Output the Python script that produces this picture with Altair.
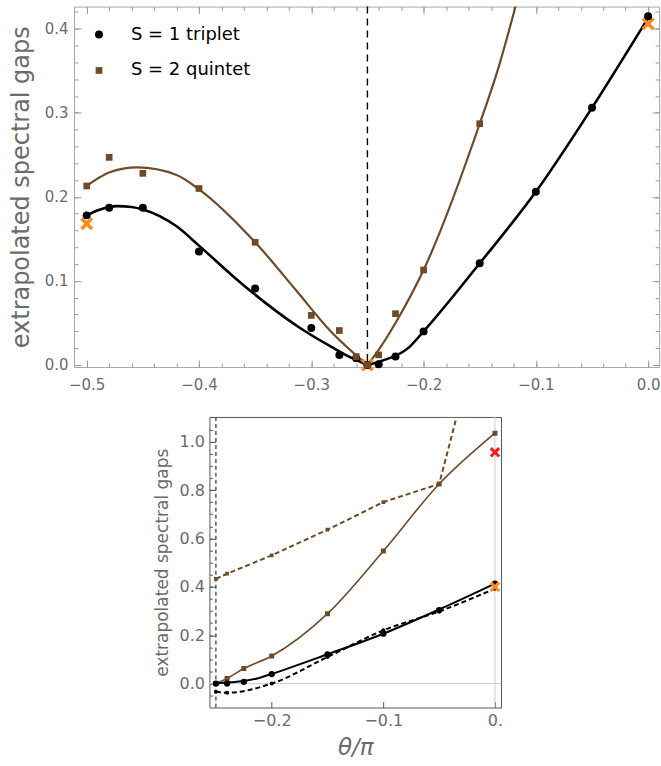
import altair as alt
import pandas as pd

FONT = "DejaVu Sans"
LABEL_GRAY = "#6b6b6b"
FRAME_TOP = "#a8a8a8"
FRAME_BOT = "#555555"
TICK_GRAY = "#9a9a9a"
BROWN = "#6e4a28"
ORANGE = "#ff8a1c"
RED = "#ff1a1a"
XPATH = "M-1,-1L1,1M-1,1L1,-1"

# ---------------- top panel data ----------------
trip_theta = [-0.5, -0.48, -0.45, -0.4, -0.35, -0.3, -0.275, -0.26, -0.25, -0.24, -0.225, -0.2, -0.15, -0.1, -0.05, 0.0]
trip_gap = [0.178, 0.187, 0.187, 0.135, 0.091, 0.044, 0.012, 0.008, 0.000, 0.001, 0.010, 0.040, 0.121, 0.206, 0.306, 0.415]

quin_theta = [-0.5, -0.48, -0.45, -0.4, -0.35, -0.3, -0.275, -0.26, -0.25, -0.24, -0.225, -0.2, -0.15]
quin_gap = [0.213, 0.247, 0.228, 0.210, 0.146, 0.059, 0.041, 0.010, 0.000, 0.012, 0.061, 0.113, 0.287]

# fitted curves (two branches each)
trip_fitL_theta = [-0.5, -0.49, -0.48, -0.473, -0.46, -0.45, -0.42, -0.40, -0.37, -0.34, -0.31, -0.28, -0.265, -0.25]
trip_fitL_gap = [0.178, 0.184, 0.188, 0.189, 0.188, 0.185, 0.165, 0.142, 0.106, 0.073, 0.044, 0.020, 0.009, 0.000]
trip_fitR_theta = [-0.25, -0.237, -0.213, -0.2, -0.15, -0.1, -0.05, 0.0]
trip_fitR_gap = [0.000, 0.005, 0.021, 0.040, 0.121, 0.206, 0.306, 0.413]

quin_fitL_theta = [-0.5, -0.49, -0.48, -0.455, -0.42, -0.40, -0.35, -0.313, -0.284, -0.25]
quin_fitL_gap = [0.213, 0.222, 0.229, 0.235, 0.226, 0.209, 0.146, 0.088, 0.042, 0.000]
quin_fitR_theta = [-0.25, -0.24, -0.225, -0.2, -0.15, -0.133, -0.118]
quin_fitR_gap = [0.000, 0.018, 0.050, 0.113, 0.287, 0.355, 0.427]

top_cross_theta = [-0.5, -0.25, 0.0]
top_cross_gap = [0.168, 0.000, 0.406]

critical_theta = [-0.25]

# ---------------- bottom panel data ----------------
bot_trip_theta = [-0.25, -0.24, -0.225, -0.2, -0.15, -0.1, -0.05, 0.0]
bot_trip_gap = [0.000, 0.000, 0.007, 0.039, 0.120, 0.206, 0.303, 0.413]

bot_quin_theta = [-0.25, -0.24, -0.225, -0.2, -0.15, -0.1, -0.05, 0.0]
bot_quin_gap = [0.000, 0.021, 0.062, 0.114, 0.289, 0.548, 0.825, 1.035]

bot_dquin_theta = [-0.25, -0.24, -0.2, -0.15, -0.1, -0.05, 0.0]
bot_dquin_gap = [0.433, 0.454, 0.530, 0.636, 0.750, 0.825, 1.71]

bot_dtrip_theta = [-0.25, -0.24, -0.2, -0.15, -0.1, -0.05, 0.0]
bot_dtrip_gap = [-0.034, -0.038, 0.000, 0.110, 0.220, 0.298, 0.392]

bot_orange_theta = [0.0]
bot_orange_gap = [0.400]
bot_red_theta = [0.0]
bot_red_gap = [0.956]

# tick positions
top_x_major = [-0.5, -0.4, -0.3, -0.2, -0.1, 0.0]
top_x_minor = [round(-0.5 + 0.02 * i, 2) for i in range(26)]
top_y_major = [0.0, 0.1, 0.2, 0.3, 0.4]
top_y_minor = [round(0.02 * i, 2) for i in range(22)]
bot_x_major = [-0.2, -0.1, 0.0]
bot_y_major = [0.0, 0.2, 0.4, 0.6, 0.8, 1.0]
bot_y_minor = [round(-0.05 + 0.05 * i, 2) for i in range(24)]


def df(theta, gap, **kw):
    d = pd.DataFrame({"theta": theta, "gap": gap})
    for k, v in kw.items():
        d[k] = v
    return d


def axis(orient, values, size, labels=False, fmt=".1f", fsize=15, pad=4, color=TICK_GRAY, **kw):
    return alt.Axis(
        orient=orient, values=values, tickSize={"expr": str(-size)}, ticks=True,
        domain=False, grid=False, labels=labels, format=fmt, tickColor=color,
        tickWidth=1, labelColor=LABEL_GRAY, labelFont=FONT, labelFontSize=fsize,
        labelPadding=pad + size, titleColor=LABEL_GRAY, titleFont=FONT,
        titleFontWeight="normal", **kw)


# ---------------- top chart ----------------
xs_t = alt.Scale(domain=[-0.5113, 0.0098], nice=False, zero=False)
ys_t = alt.Scale(domain=[-0.0024, 0.4264], nice=False, zero=False)

top_pts = pd.concat([df(trip_theta, trip_gap, series="S = 1 triplet"),
                     df(quin_theta, quin_gap, series="S = 2 quintet")])
trip_fit = pd.concat([df(trip_fitL_theta, trip_fitL_gap, branch="L"),
                      df(trip_fitR_theta, trip_fitR_gap, branch="R")])
quin_fit = pd.concat([df(quin_fitL_theta, quin_fitL_gap, branch="L"),
                      df(quin_fitR_theta, quin_fitR_gap, branch="R")])

rule_t = alt.Chart(pd.DataFrame({"theta": critical_theta})).mark_rule(
    color="black", strokeDash=[7, 5], strokeWidth=1.4).encode(
    x=alt.X("theta:Q", scale=xs_t, axis=None))

line_trip_t = alt.Chart(trip_fit).mark_line(
    interpolate="monotone", clip=True, color="black", strokeWidth=2.6).encode(
    x=alt.X("theta:Q", scale=xs_t, title=None, axis=axis("bottom", top_x_minor, 4)),
    y=alt.Y("gap:Q", scale=ys_t, title=None, axis=axis("left", top_y_minor, 4)),
    detail="branch:N")

line_quin_t = alt.Chart(quin_fit).mark_line(
    interpolate="monotone", clip=True, color=BROWN, strokeWidth=2.2).encode(
    x=alt.X("theta:Q", scale=xs_t, title=None, axis=axis("top", top_x_major, 7)),
    y=alt.Y("gap:Q", scale=ys_t, title=None, axis=axis("right", top_y_major, 7)),
    detail="branch:N")

cross_t = alt.Chart(df(top_cross_theta, top_cross_gap)).mark_point(
    shape=XPATH, filled=False, color=ORANGE, strokeWidth=3.5, size=110, opacity=1).encode(
    x=alt.X("theta:Q", scale=xs_t, title=None, axis=axis("top", top_x_minor, 4)),
    y=alt.Y("gap:Q", scale=ys_t, title=None, axis=axis("right", top_y_minor, 4)))

legend_kw = dict(title=None, orient="none", legendX=16, legendY=19,
                 labelFont=FONT, labelFontSize=18, labelColor="black",
                 symbolSize=64, rowPadding=18, labelOffset=23,
                 padding=0, symbolStrokeWidth=0)

pts_t = alt.Chart(top_pts).mark_point(filled=True, opacity=1).encode(
    x=alt.X("theta:Q", scale=xs_t, title=None,
            axis=axis("bottom", top_x_major, 7, labels=True, pad=11)),
    y=alt.Y("gap:Q", scale=ys_t,
            axis=axis("left", top_y_major, 7, labels=True, pad=6,
                      title="extrapolated spectral gaps", titleFontSize=24,
                      titlePadding=11)),
    color=alt.Color("series:N", scale=alt.Scale(domain=["S = 1 triplet", "S = 2 quintet"],
                                                range=["black", BROWN]),
                    legend=alt.Legend(**legend_kw)),
    shape=alt.Shape("series:N", scale=alt.Scale(domain=["S = 1 triplet", "S = 2 quintet"],
                                                range=["circle", "square"]),
                    legend=alt.Legend(**legend_kw)),
    size=alt.Size("series:N", scale=alt.Scale(domain=["S = 1 triplet", "S = 2 quintet"],
                                              range=[64, 45]), legend=None))

top = alt.layer(rule_t, line_trip_t, line_quin_t, cross_t, pts_t).resolve_axis(
    x="independent", y="independent").properties(
    width=586, height=361, view=alt.ViewBackground(stroke=FRAME_TOP, strokeWidth=1))

# ---------------- bottom chart ----------------
xs_b = alt.Scale(domain=[-0.2558, 0.0054], nice=False, zero=False)
ys_b = alt.Scale(domain=[-0.099, 1.102], nice=False, zero=False)

zero_h = alt.Chart(pd.DataFrame({"gap": [0.0]})).mark_rule(color="#cccccc", strokeWidth=1).encode(
    y=alt.Y("gap:Q", scale=ys_b, axis=None))
zero_v = alt.Chart(pd.DataFrame({"theta": [0.0]})).mark_rule(color="#cccccc", strokeWidth=1).encode(
    x=alt.X("theta:Q", scale=xs_b, axis=None))
rule_b = alt.Chart(pd.DataFrame({"theta": critical_theta})).mark_rule(
    color="#333333", strokeDash=[4, 3], strokeWidth=1.2).encode(
    x=alt.X("theta:Q", scale=xs_b, axis=None))


def bline(theta, gap, color, width, dash=None, interp="monotone"):
    kw = dict(interpolate=interp, clip=True, color=color, strokeWidth=width)
    if dash:
        kw["strokeDash"] = dash
    return alt.Chart(df(theta, gap)).mark_line(**kw).encode(
        x=alt.X("theta:Q", scale=xs_b, axis=None),
        y=alt.Y("gap:Q", scale=ys_b, axis=None))


def bpts(theta, gap, color, shape, size, x_axis=None, y_axis=None, **mk):
    return alt.Chart(df(theta, gap)).mark_point(
        filled=(shape != XPATH), shape=shape, color=color, size=size, opacity=1, clip=True, **mk).encode(
        x=alt.X("theta:Q", scale=xs_b, title=None, axis=x_axis),
        y=alt.Y("gap:Q", scale=ys_b, title=None, axis=y_axis))


l_dq = bline(bot_dquin_theta, bot_dquin_gap, BROWN, 2.0, dash=[5, 3], interp="linear")
l_dt = bline(bot_dtrip_theta, bot_dtrip_gap, "black", 2.0, dash=[5, 3])
l_q = bline(bot_quin_theta, bot_quin_gap, BROWN, 1.6)
l_t = bline(trip_fitR_theta, trip_fitR_gap, "black", 2.0)

# invisible right-side spacer axis (keeps the lower panel placed as in the original)
spacer_axis = alt.Axis(orient="right", ticks=False, labels=False, domain=False, grid=False,
                       title="·", titleOpacity=0, titlePadding=11, titleFontSize=12)

p_dq = bpts(bot_dquin_theta, bot_dquin_gap, BROWN, "square", 14, y_axis=spacer_axis)
p_dt = bpts(bot_dtrip_theta, bot_dtrip_gap, "black", "circle", 16)
p_q = bpts(bot_quin_theta, bot_quin_gap, BROWN, "square", 25,
           y_axis=axis("left", bot_y_minor, 3, color="#555555"))
p_t = bpts(bot_trip_theta, bot_trip_gap, "black", "circle", 40,
           x_axis=axis("bottom", bot_x_major, 6, labels=True, fsize=16, pad=5, color="#555555",
                       labelExpr="datum.value == 0 ? '0.' : format(datum.value, '.1f')",
                       title="θ/π", titleFontSize=23, titleFontStyle="italic", titlePadding=8),
           y_axis=axis("left", bot_y_major, 6, labels=True, fsize=16, pad=5, color="#555555",
                       title="extrapolated spectral gaps", titleFontSize=17, titlePadding=8))
x_or = bpts(bot_orange_theta, bot_orange_gap, ORANGE, XPATH, 70, strokeWidth=3)
x_red = bpts(bot_red_theta, bot_red_gap, RED, XPATH, 70, strokeWidth=3)

bottom = alt.layer(zero_h, zero_v, rule_b, l_dq, l_dt, l_q, l_t, p_dq, p_dt, p_q, p_t, x_or, x_red).resolve_axis(
    x="independent", y="independent").properties(
    width=292, height=291, view=alt.ViewBackground(stroke=FRAME_BOT, strokeWidth=1))

chart = alt.vconcat(top, bottom, spacing=21, center=True).resolve_scale(
    x="independent", y="independent", color="independent", shape="independent",
    size="independent").properties(
    padding={"left": 8, "top": 4, "right": 0, "bottom": 0}).configure(
    font=FONT).configure_view(stroke=None)

chart.save("out.html", embed_options={"renderer": "svg", "actions": False})
